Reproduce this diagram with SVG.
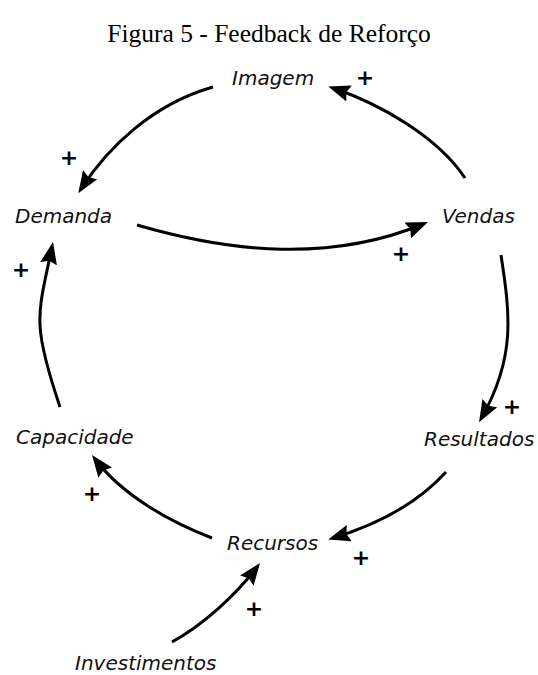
<svg xmlns="http://www.w3.org/2000/svg" width="538" height="675" viewBox="0 0 538 675">
<style>
.title{font-family:"Liberation Serif","Times New Roman",serif;font-size:25.5px;fill:#000;}
.lbl{font-family:"DejaVu Sans",Verdana,sans-serif;font-style:italic;font-size:20px;fill:#111;}
.plus{font-family:"DejaVu Sans",Verdana,sans-serif;font-weight:bold;font-size:22px;fill:#000;text-anchor:middle;}
.arc{fill:none;stroke:#000;stroke-width:3;marker-end:url(#ah);}
</style>
<defs>
<marker id="ah" viewBox="0 0 22 17" markerUnits="userSpaceOnUse" markerWidth="22" markerHeight="17" refX="17" refY="8.5" orient="auto">
<path d="M0,0 L22,8.5 L0,17 L3,8.5 z" fill="#000"/>
</marker>
</defs>
<rect width="538" height="675" fill="#fff"/>
<text class="title" x="269" y="42" text-anchor="middle">Figura 5 - Feedback de Reforço</text>
<g id="connectors">
<path id="e-imagem-demanda" class="arc" d="M213,87 C153,104 108,147 81,189"/>
<path id="e-vendas-imagem" class="arc" d="M465,178 C437.5,136.5 380,104 333,88"/>
<path id="e-demanda-vendas" class="arc" d="M137,225 C233,253 331,262 423.4,224"/>
<path id="e-capacidade-demanda" class="arc" d="M60,407 C31,321 38,315 52,247"/>
<path id="e-vendas-resultados" class="arc" d="M501,255 C510,314 516,357 481.5,418"/>
<path id="e-recursos-capacidade" class="arc" d="M212,538 C170,522 122,495 95,459"/>
<path id="e-resultados-recursos" class="arc" d="M446,472 C416,505 376,525 333,538"/>
<path id="e-investimentos-recursos" class="arc" d="M172,642 C203,625 236,595 257,567"/>
<text class="plus" x="69" y="165">+</text>
<text class="plus" x="365" y="85">+</text>
<text class="plus" x="401" y="261">+</text>
<text class="plus" x="21" y="277">+</text>
<text class="plus" x="512" y="414">+</text>
<text class="plus" x="92" y="501">+</text>
<text class="plus" x="361" y="565">+</text>
<text class="plus" x="254" y="616">+</text>
</g>
<g id="n-imagem"><text class="lbl" x="232" y="85">Imagem</text></g>
<g id="n-demanda"><text class="lbl" x="15" y="223">Demanda</text></g>
<g id="n-vendas"><text class="lbl" x="442" y="223">Vendas</text></g>
<g id="n-capacidade"><text class="lbl" x="16" y="444">Capacidade</text></g>
<g id="n-resultados"><text class="lbl" x="424" y="446">Resultados</text></g>
<g id="n-recursos"><text class="lbl" x="227" y="550">Recursos</text></g>
<g id="n-investimentos"><text class="lbl" x="75" y="670">Investimentos</text></g>
</svg>
